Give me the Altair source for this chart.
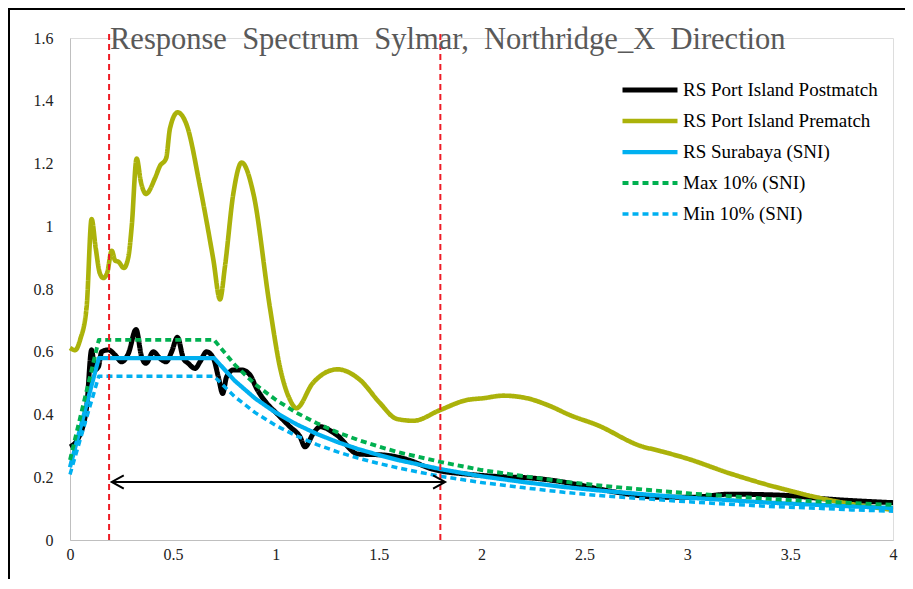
import altair as alt
import pandas as pd

# ---------------- data ----------------
series_names = [
    "RS Port Island Postmatch",
    "RS Port Island Prematch",
    "RS Surabaya (SNI)",
    "Max 10% (SNI)",
    "Min 10% (SNI)",
]

post_T = [0, 0.04, 0.081, 0.105, 0.121, 0.138, 0.154, 0.186, 0.219, 0.251, 0.284,
          0.321, 0.348, 0.369, 0.405, 0.437, 0.467, 0.494, 0.522, 0.551, 0.575,
          0.608, 0.632, 0.664, 0.697, 0.721, 0.742, 0.761, 0.794, 0.834, 0.875,
          0.907, 0.956, 1.004, 1.069, 1.118, 1.142, 1.183, 1.215, 1.296, 1.40,
          1.523, 1.636, 1.766, 1.928, 2.09, 2.252, 2.414, 2.479, 2.576, 2.64,
          2.884, 3.013, 3.208, 3.451, 3.694, 4.0]
post_Sa = [0.297, 0.324, 0.425, 0.606, 0.542, 0.552, 0.600, 0.606, 0.590, 0.568, 0.595,
           0.671, 0.584, 0.563, 0.600, 0.579, 0.568, 0.600, 0.646, 0.579, 0.563,
           0.547, 0.568, 0.600, 0.579, 0.520, 0.467, 0.520, 0.542, 0.542, 0.526,
           0.483, 0.436, 0.404, 0.361, 0.329, 0.297, 0.340, 0.361, 0.335, 0.274,
           0.271, 0.257, 0.225, 0.210, 0.202, 0.197, 0.183, 0.175, 0.162, 0.154,
           0.136, 0.136, 0.146, 0.143, 0.130, 0.119]

pre_T = [0, 0.025, 0.05, 0.081, 0.105, 0.125, 0.145, 0.162, 0.18, 0.203, 0.22,
         0.235, 0.262, 0.284, 0.30, 0.324, 0.345, 0.369, 0.413, 0.437, 0.467,
         0.486, 0.523, 0.567, 0.632, 0.697, 0.729, 0.753, 0.794, 0.834, 0.891,
         0.972, 1.02, 1.07, 1.10, 1.18, 1.30, 1.41, 1.507, 1.588, 1.669, 1.798,
         1.928, 2.009, 2.106, 2.22, 2.333, 2.43, 2.56, 2.786, 2.835, 2.997,
         3.208, 3.451, 3.694, 4.0]
pre_Sa = [0.612, 0.605, 0.640, 0.744, 1.023, 0.930, 0.850, 0.835, 0.850, 0.922, 0.890,
          0.887, 0.867, 0.903, 1.000, 1.216, 1.140, 1.103, 1.153, 1.192, 1.216,
          1.312, 1.363, 1.323, 1.126, 0.892, 0.767, 0.871, 1.105, 1.203, 1.105,
          0.739, 0.552, 0.446, 0.420, 0.500, 0.544, 0.510, 0.436, 0.386, 0.380, 0.414,
          0.446, 0.452, 0.460, 0.452, 0.427, 0.398, 0.367, 0.297, 0.289, 0.260,
          0.212, 0.165, 0.127, 0.096]

sni_T = [0, 0.14, 0.7, 0.8, 0.9, 1.0, 1.1, 1.2, 1.3, 1.4, 1.5, 1.6, 1.8, 2.0,
         2.2, 2.4, 2.6, 2.8, 3.0, 3.2, 3.4, 3.6, 3.8, 4.0]
sni_Sa = [0.232, 0.580, 0.580, 0.508, 0.451, 0.406, 0.369, 0.338, 0.312, 0.290,
          0.271, 0.254, 0.226, 0.203, 0.185, 0.169, 0.156, 0.145, 0.135, 0.127,
          0.119, 0.113, 0.107, 0.102]
max_Sa = [0.255, 0.638, 0.638, 0.559, 0.496, 0.447, 0.406, 0.372, 0.343, 0.319,
          0.298, 0.279, 0.249, 0.223, 0.204, 0.186, 0.172, 0.160, 0.149, 0.140,
          0.131, 0.124, 0.118, 0.112]
min_Sa = [0.209, 0.522, 0.522, 0.457, 0.406, 0.365, 0.332, 0.304, 0.281, 0.261,
          0.244, 0.229, 0.203, 0.183, 0.167, 0.152, 0.140, 0.131, 0.122, 0.114,
          0.107, 0.102, 0.096, 0.092]

limit_T = [0.19, 1.80]          # red dashed period limits
arrow_T = [0.203, 1.823]        # double-headed arrow ends
arrow_Sa = [0.185, 0.185]

x_ticks = [0, 0.5, 1, 1.5, 2, 2.5, 3, 3.5, 4]
y_ticks = [0, 0.2, 0.4, 0.6, 0.8, 1.0, 1.2, 1.4, 1.6]

title_text = "Response\u2002Spectrum\u2002Sylmar,\u2002Northridge_X\u2002Direction"

# ---------------- styles ----------------
series_colors = ["#000000", "#ABB20A", "#00B0F0", "#00B050", "#00B0F0"]
series_dash = [[1, 0], [1, 0], [1, 0], [6, 4], [6, 4]]
series_width = [5, 3.5, 2.5, 2.5, 2.5]
FONT = "Liberation Serif, Times New Roman, serif"

rows = []
for T, v in zip(post_T, post_Sa):
    rows.append({"T": T, "Sa": v, "series": series_names[0]})
for T, v in zip(pre_T, pre_Sa):
    rows.append({"T": T, "Sa": v, "series": series_names[1]})
for T, v in zip(sni_T, sni_Sa):
    rows.append({"T": T, "Sa": v, "series": series_names[2]})
for T, v in zip(sni_T, max_Sa):
    rows.append({"T": T, "Sa": v, "series": series_names[3]})
for T, v in zip(sni_T, min_Sa):
    rows.append({"T": T, "Sa": v, "series": series_names[4]})
df = pd.DataFrame(rows)

x_scale = alt.Scale(domain=[0, 4], nice=False, zero=False)
y_scale = alt.Scale(domain=[0, 1.6], nice=False)
x_axis = alt.Axis(values=x_ticks, format=".1~f", grid=False, ticks=False,
                  domainColor="#BFBFBF", labelFont=FONT, labelFontSize=16,
                  labelColor="#222222", labelPadding=6, labelFlush=False, title=None)
y_axis = alt.Axis(values=y_ticks, format=".1~f", grid=False, ticks=False,
                  domainColor="#BFBFBF", labelFont=FONT, labelFontSize=16,
                  labelColor="#222222", labelPadding=17, labelFlush=False, title=None)

legend = alt.Legend(
    title=None, orient="none", legendX=550, legendY=42,
    symbolType="stroke", symbolSize=3025, clipHeight=20, rowPadding=11,
    labelFont=FONT, labelFontSize=19, labelColor="#000000", labelOffset=3,
    labelLimit=400,
)
color_scale = alt.Scale(domain=series_names, range=series_colors)
dash_scale = alt.Scale(domain=series_names, range=series_dash)
width_scale = alt.Scale(domain=series_names, range=series_width)


def series_layer(name, interp):
    return alt.Chart(df).transform_filter(alt.datum.series == name).mark_line(
        interpolate=interp, strokeJoin="round"
    ).encode(
        x=alt.X("T:Q", scale=x_scale, axis=x_axis),
        y=alt.Y("Sa:Q", scale=y_scale, axis=y_axis),
        color=alt.Color("series:N", scale=color_scale, legend=legend),
        strokeDash=alt.StrokeDash("series:N", scale=dash_scale, legend=legend),
        strokeWidth=alt.StrokeWidth("series:N", scale=width_scale, legend=legend),
        order=alt.Order("T:Q"),
    )


layers = [
    series_layer(series_names[0], "monotone"),
    series_layer(series_names[1], "monotone"),
    series_layer(series_names[2], "linear"),
    series_layer(series_names[3], "linear"),
    series_layer(series_names[4], "linear"),
]

limits = alt.Chart(pd.DataFrame({"T": limit_T, "lo": [0, 0], "hi": [1.615, 1.615]})).mark_rule(
    color="#EE1C25", strokeWidth=2, strokeDash=[6, 4]
).encode(x=alt.X("T:Q", scale=x_scale), y=alt.Y("lo:Q", scale=y_scale), y2="hi:Q")

arrow_df = pd.DataFrame({"T": [arrow_T[0]], "T2": [arrow_T[1]], "Sa": [arrow_Sa[0]]})
arrow = alt.Chart(arrow_df).mark_rule(color="#000000", strokeWidth=2).encode(
    x=alt.X("T:Q", scale=x_scale), x2="T2:Q", y=alt.Y("Sa:Q", scale=y_scale)
)
head_df = pd.DataFrame({"T": arrow_T, "Sa": arrow_Sa})
head_left = alt.Chart(head_df.iloc[[0]]).mark_point(
    shape="M1,-0.55L0,0L1,0.55", size=576, filled=False, color="#000000",
    strokeWidth=2, opacity=1
).encode(x=alt.X("T:Q", scale=x_scale), y=alt.Y("Sa:Q", scale=y_scale))
head_right = alt.Chart(head_df.iloc[[1]]).mark_point(
    shape="M-1,-0.55L0,0L-1,0.55", size=576, filled=False, color="#000000",
    strokeWidth=2, opacity=1
).encode(x=alt.X("T:Q", scale=x_scale), y=alt.Y("Sa:Q", scale=y_scale))

# chart title drawn inside the top of the plot, as in the reference
title_mark = alt.Chart(pd.DataFrame({"t": [title_text]})).mark_text(
    font=FONT, fontSize=30.5, color="#595959", align="left", baseline="alphabetic"
).encode(text="t:N", x=alt.value(40), y=alt.value(11))

# image frame (decoration of the original picture)
frame_top = alt.Chart(pd.DataFrame({"a": [0]})).mark_rule(color="#000000", strokeWidth=2).encode(
    x=alt.value(-62), x2=alt.value(900), y=alt.value(-29)
)
frame_left = alt.Chart(pd.DataFrame({"a": [0]})).mark_rule(color="#000000", strokeWidth=2).encode(
    x=alt.value(-61), y=alt.value(-30), y2=alt.value(545)
)

chart = alt.layer(*layers, limits, arrow, head_left, head_right, title_mark,
                  frame_top, frame_left).properties(
    width=823,
    height=502,
    autosize=alt.AutoSizeParams(type="none"),
    padding={"left": 62, "top": 30, "right": 12, "bottom": 39},
).configure_view(stroke=None).configure(background="white")

chart.save("out.html", embed_options={"renderer": "svg", "actions": False})
